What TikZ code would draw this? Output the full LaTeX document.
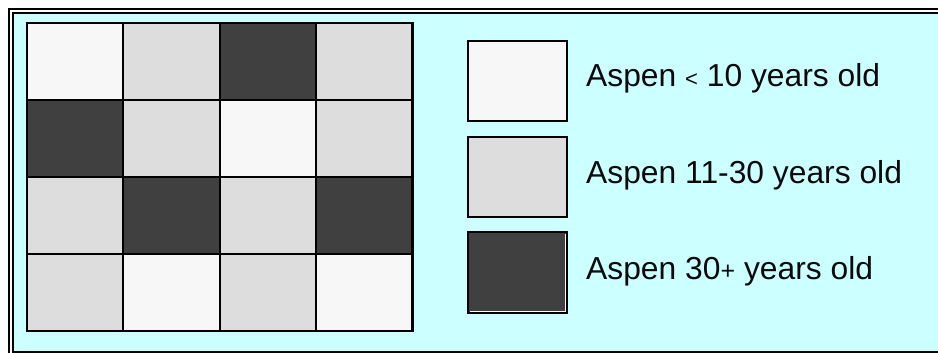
\documentclass[tikz,border=0pt]{standalone}
\usepackage{fontspec}
\setmainfont{Liberation Sans}
\definecolor{bgcyan}{HTML}{CCFFFF}
\definecolor{lightc}{HTML}{F7F7F7}
\definecolor{midc}{HTML}{DDDDDD}
\definecolor{darkc}{HTML}{404040}
\definecolor{txt}{HTML}{0A0A0A}
\begin{document}
\begin{tikzpicture}[x=1pt,y=-1pt,
  cell/.style={draw=black,line width=2.2pt},
  legbox/.style={draw=black,line width=2pt},
  frame/.style={draw=black,line width=2pt},
  legtext/.style={anchor=base west,inner sep=0pt,font=\fontsize{31.8}{34}\selectfont,text=txt}]
\useasboundingbox (0,0) rectangle (938,353);
\fill[white] (0,0) rectangle (938,353);
\fill[bgcyan] (13,13) rectangle (938,352);
% frame
\draw[frame] (9,353) -- (9,9) -- (938,9);
\draw[frame] (13,353) -- (13,13) -- (938,13);
\draw[frame] (13,352) -- (938,352);
% grid
\def\xa{27}\def\xb{123.3}\def\xc{219.7}\def\xd{316}\def\xe{412.4}
\def\ya{23}\def\yb{100}\def\yc{177}\def\yd{254}\def\ye{331}
% row 1
\path[cell,fill=lightc] (\xa,\ya) rectangle (\xb,\yb) node[pos=0.5] (c11) {};
\path[cell,fill=midc]   (\xb,\ya) rectangle (\xc,\yb) node[pos=0.5] (c12) {};
\path[cell,fill=darkc]  (\xc,\ya) rectangle (\xd,\yb) node[pos=0.5] (c13) {};
\path[cell,fill=midc]   (\xd,\ya) rectangle (\xe,\yb) node[pos=0.5] (c14) {};
% row 2
\path[cell,fill=darkc]  (\xa,\yb) rectangle (\xb,\yc) node[pos=0.5] (c21) {};
\path[cell,fill=midc]   (\xb,\yb) rectangle (\xc,\yc) node[pos=0.5] (c22) {};
\path[cell,fill=lightc] (\xc,\yb) rectangle (\xd,\yc) node[pos=0.5] (c23) {};
\path[cell,fill=midc]   (\xd,\yb) rectangle (\xe,\yc) node[pos=0.5] (c24) {};
% row 3
\path[cell,fill=midc]   (\xa,\yc) rectangle (\xb,\yd) node[pos=0.5] (c31) {};
\path[cell,fill=darkc]  (\xb,\yc) rectangle (\xc,\yd) node[pos=0.5] (c32) {};
\path[cell,fill=midc]   (\xc,\yc) rectangle (\xd,\yd) node[pos=0.5] (c33) {};
\path[cell,fill=darkc]  (\xd,\yc) rectangle (\xe,\yd) node[pos=0.5] (c34) {};
% row 4
\path[cell,fill=midc]   (\xa,\yd) rectangle (\xb,\ye) node[pos=0.5] (c41) {};
\path[cell,fill=lightc] (\xb,\yd) rectangle (\xc,\ye) node[pos=0.5] (c42) {};
\path[cell,fill=midc]   (\xc,\yd) rectangle (\xd,\ye) node[pos=0.5] (c43) {};
\path[cell,fill=lightc] (\xd,\yd) rectangle (\xe,\ye) node[pos=0.5] (c44) {};
% legend
\path[legbox,fill=lightc] (468,41) rectangle (567,121) node[pos=0.5] (l1) {};
\path[legbox,fill=midc]   (468,137) rectangle (567,217) node[pos=0.5] (l2) {};
\path[legbox,fill=darkc]  (468,232) rectangle (567,313) node[pos=0.5] (l3) {};
\draw[white,line width=0.8pt] (565,234) -- (565,311) -- (470,311);
\node[legtext] (t1) at (586,87) {Aspen {\fontsize{22}{24}\selectfont<} 10 years old};
\node[legtext] (t2) at (586,183) {Aspen 11-30 years old};
\node[legtext] (t3) at (586,279) {Aspen 30{\fontsize{25}{24}\selectfont+} years old};
\end{tikzpicture}
\end{document}
